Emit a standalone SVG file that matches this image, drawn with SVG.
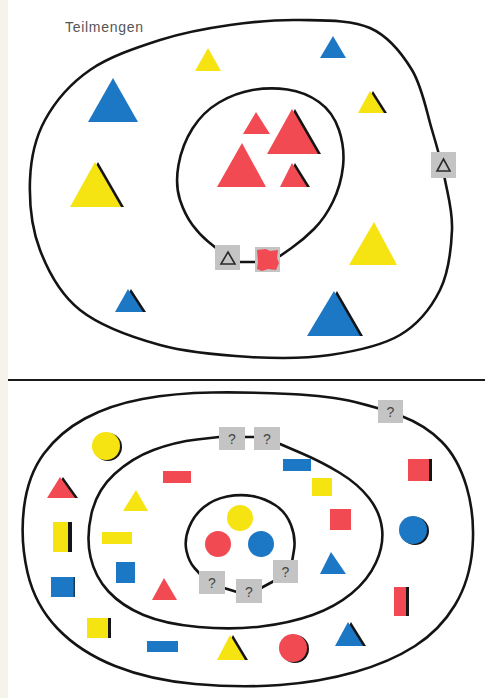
<svg xmlns="http://www.w3.org/2000/svg" width="485" height="698" viewBox="0 0 485 698">
<style>
.curve{fill:none;stroke:#141414;stroke-width:2.6;stroke-linecap:round;stroke-linejoin:round}
.y{fill:#f6e312}.b{fill:#1c78c5}.r{fill:#f14a52}.sh{fill:#151515}
.box{fill:#c4c4c4}
.q{font-family:"Liberation Sans",Arial,sans-serif;font-size:14px;fill:#444444;text-anchor:middle}
.tri{fill:none;stroke:#2a2a2a;stroke-width:1.6;stroke-linejoin:miter}
</style>
<rect width="485" height="698" fill="#ffffff"/>
<rect x="0" y="0" width="8" height="698" fill="#f5f3ea"/>

<g id="connectors">
<path class="curve" d="M300,20 C323.3,20.5 351.3,19.7 370,28 C388.7,36.3 401.7,53 412,70 C422.3,87 426.5,111.7 432,130 C437.5,148.3 441.7,163.3 445,180 C448.3,196.7 452.8,211.7 452,230 C451.2,248.3 448.7,272.5 440,290 C431.3,307.5 418.3,324.2 400,335 C381.7,345.8 355,351.3 330,355 C305,358.7 278.3,358.7 250,357 C221.7,355.3 188.3,352.8 160,345 C131.7,337.2 100,325.8 80,310 C60,294.2 48.3,271.7 40,250 C31.7,228.3 29.2,201.7 30,180 C30.8,158.3 35,138.3 45,120 C55,101.7 70.8,83.3 90,70 C109.2,56.7 136.7,47.5 160,40 C183.3,32.5 206.7,28.3 230,25 C253.3,21.7 276.7,19.5 300,20 Z"/>
<path class="curve" d="M280,256 L291.5,248 Q303,240 314,229 Q325,218 333,201.5 Q341,185 343,166.5 Q345,148 339,130 Q333,112 319,102 Q305,92 287.5,89.5 Q270,87 252.5,90 Q235,93 219,102.5 Q203,112 192.5,128.5 Q182,145 178.5,165 Q175,185 180,200 Q185,215 192.5,225 Q200,235 208,241.5 L216,248"/>
<line class="curve" x1="240" y1="262" x2="256" y2="262"/>
<line x1="8" y1="380" x2="485" y2="380" stroke="#1a1a1a" stroke-width="2"/>
<path class="curve" d="M212.5,392.5 Q250,392 290,394 Q330,396 355,402 Q380,408 402.5,416.5 Q425,425 441.5,441.5 Q458,458 466.5,486.5 Q475,515 472.5,547.5 Q470,580 455,605 Q440,630 415,646 Q390,662 355,672 Q320,682 280,685 Q240,688 195,684 Q150,680 115,666 Q80,652 57.5,628.5 Q35,605 27.5,572.5 Q20,540 24,507.5 Q28,475 44,453.5 Q60,432 85,418.5 Q110,405 142.5,399 Q175,393 212.5,392.5 Z"/>
<path class="curve" d="M280,444 L301,453 Q322,462 340,473 Q358,484 369,498 Q380,512 382,528.5 Q384,545 376,562.5 Q368,580 351.5,593.5 Q335,607 312.5,615 Q290,623 261,626.5 Q232,630 198.5,627 Q165,624 143.5,615 Q122,606 108.5,591.5 Q95,577 90.5,557 Q86,537 91.5,513.5 Q97,490 114.5,474 Q132,458 153.5,450 Q175,442 197,439.5 L219,437"/>
<line class="curve" x1="244" y1="437" x2="255" y2="437"/>
<path class="curve" d="M292,562 L294,550 Q296,538 291,525 Q286,512 275,505 Q264,498 252,496 Q240,494 227,496.5 Q214,499 204,507 Q194,515 189,527.5 Q184,540 186.5,551 Q189,562 194.5,568 L200,574"/>
<line class="curve" x1="224" y1="588" x2="237" y2="592"/>
<line class="curve" x1="261" y1="588" x2="274" y2="581"/>
</g>

<text x="65" y="32" font-family="'Liberation Sans',Arial,sans-serif" font-size="14" fill="#555555" textLength="78">Teilmengen</text>

<g id="set-top-outer">
<polygon class="y" points="208,48 221,71 195,71"/>
<polygon class="b" points="333,36 346,58 320,58"/>
<polygon class="b" points="113,78 138,122 88,122"/>
<polygon class="sh" points="373,91 387,113 361,113"/>
<polygon class="y" points="370,91 384,113 358,113"/>
<polygon class="sh" points="98,162 124,207 73,207"/>
<polygon class="y" points="95,162 121,207 70,207"/>
<polygon class="y" points="374,222 397,265 349,265"/>
<polygon class="sh" points="131,289 146,312 118,312"/>
<polygon class="b" points="128,289 143,312 115,312"/>
<polygon class="sh" points="337,291 363,336 310,336"/>
<polygon class="b" points="334,291 360,336 307,336"/>
</g>
<g id="set-top-inner">
<polygon class="r" points="256,112 270,134 243,134"/>
<polygon class="sh" points="295,109 321,154 270,154"/>
<polygon class="r" points="292,109 318,154 267,154"/>
<polygon class="r" points="242,143 266,187 217,187"/>
<polygon class="sh" points="295,163 310,187 283,187"/>
<polygon class="r" points="292,163 307,187 280,187"/>
</g>
<g id="box-top-tri">
<rect class="box" x="215" y="245" width="25" height="25"/>
<polygon class="tri" points="228,252 235,264 221,264"/>
</g>
<g id="box-top-red">
<rect class="box" x="255" y="247" width="25" height="25"/>
<path class="r" d="M257,250 L266,249 L270,251 L278,250 L277,258 L279,263 L276,270 L268,269 L262,271 L257,269 L258,262 Z"/>
</g>
<g id="box-top-right">
<rect class="box" x="431" y="152" width="25" height="26"/>
<polygon class="tri" points="443.5,159 450,171 437,171"/>
</g>

<g id="set-bottom-outer">
<circle class="sh" cx="108" cy="447" r="14"/>
<circle class="y" cx="106" cy="446" r="14"/>
<polygon class="sh" points="63,477 78,498 50,498"/>
<polygon class="r" points="60,477 75,498 47,498"/>
<rect class="sh" x="56" y="522" width="16" height="30"/>
<rect class="y" x="53" y="522" width="15" height="30"/>
<rect x="52" y="577" width="23" height="20" fill="#1a3a5a"/>
<rect class="b" x="51" y="577" width="22.5" height="20"/>
<rect class="sh" x="90" y="618" width="21" height="20"/>
<rect class="y" x="87" y="618" width="21" height="20"/>
<rect class="b" x="147" y="641" width="31" height="11"/>
<polygon class="sh" points="233,635 248,660 220,660"/>
<polygon class="y" points="230,635 245,660 217,660"/>
<circle class="sh" cx="295" cy="649" r="14"/>
<circle class="r" cx="293" cy="648" r="14"/>
<polygon class="sh" points="351,622 366,646 338,646"/>
<polygon class="b" points="348,622 363,646 335,646"/>
<rect class="sh" x="396" y="587" width="13" height="29"/>
<rect class="r" x="394" y="587" width="12" height="29"/>
<circle class="sh" cx="415" cy="531" r="14"/>
<circle class="b" cx="413" cy="530" r="14"/>
<rect class="sh" x="410" y="459" width="22" height="22"/>
<rect class="r" x="408" y="459" width="21" height="22"/>
</g>
<g id="set-bottom-middle">
<rect class="r" x="163" y="471" width="28" height="12"/>
<polygon class="y" points="136,490 148,511 123,511"/>
<rect class="y" x="102" y="532" width="30" height="12"/>
<rect class="b" x="116" y="562" width="19" height="21"/>
<polygon class="r" points="164,578 177,600 152,600"/>
<rect class="b" x="283" y="459" width="28" height="12"/>
<rect class="y" x="312" y="478" width="20" height="18"/>
<rect class="r" x="330" y="509" width="21" height="21"/>
<polygon class="b" points="331,552 346,574 320,574"/>
</g>
<g id="set-bottom-inner">
<circle class="y" cx="240" cy="518" r="13"/>
<circle class="r" cx="218" cy="544" r="13"/>
<circle class="b" cx="261" cy="544" r="13"/>
</g>
<g id="box-q-outer"><rect class="box" x="378" y="400" width="25" height="23"/><text class="q" x="390.5" y="416.5">?</text></g>
<g id="box-q-mid1"><rect class="box" x="219" y="427" width="26" height="23"/><text class="q" x="232" y="443.5">?</text></g>
<g id="box-q-mid2"><rect class="box" x="254" y="427" width="26" height="23"/><text class="q" x="267" y="443.5">?</text></g>
<g id="box-q-in1"><rect class="box" x="199" y="571" width="26" height="23"/><text class="q" x="212" y="587.5">?</text></g>
<g id="box-q-in2"><rect class="box" x="236" y="579" width="26" height="24"/><text class="q" x="249" y="596.5">?</text></g>
<g id="box-q-in3"><rect class="box" x="273" y="560" width="25" height="23"/><text class="q" x="285.5" y="576.5">?</text></g>
</svg>
